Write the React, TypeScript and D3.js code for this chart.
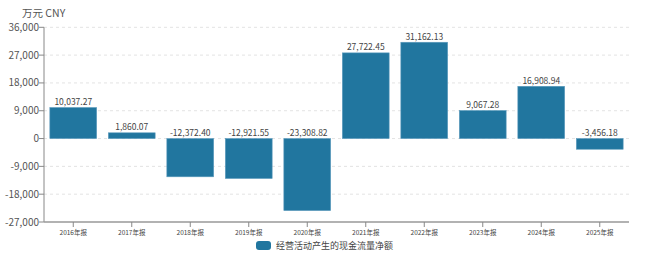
import React from "react";
import * as d3 from "d3";

const categories = ["2016年报", "2017年报", "2018年报", "2019年报", "2020年报", "2021年报", "2022年报", "2023年报", "2024年报", "2025年报"];
const values = [10037.27, 1860.07, -12372.4, -12921.55, -23308.82, 27722.45, 31162.13, 9067.28, 16908.94, -3456.18];
const yTicks = [-27000, -18000, -9000, 0, 9000, 18000, 27000, 36000];
const seriesName = "经营活动产生的现金流量净额";
const unitLabel = "万元  CNY";

const W = 648;
const H = 255;
const left = 44;
const right = 629;
const top = 27.3;
const bottom = 222;
const font = "'Noto Sans CJK SC', 'Noto Sans', sans-serif";

const locale = d3.formatLocale({ decimal: ".", thousands: ",", grouping: [3], currency: ["", ""], minus: "-" });

export default function App() {
  const x = d3.scaleBand<string>().domain(categories).range([left, right]).paddingInner(0.2).paddingOuter(0.1);
  const xc = d3.scaleBand<string>().domain(categories).range([left, right]);
  const y = d3.scaleLinear().domain([-27000, 36000]).range([bottom, top]);
  const fmt = locale.format(",.2f");
  const tfmt = locale.format(",");
  const barColor = "#21769f";

  return (
    <svg width={W} height={H} style={{ position: "absolute", left: 0, top: 0, background: "#fff" }} fontFamily={font}>
      <text x={22} y={17} fontSize={10.5} fill="#555">{unitLabel}</text>
      {yTicks.map((t) => (
        <g key={t}>
          {t !== -27000 && (
            <line x1={left} x2={right} y1={y(t)} y2={y(t)} stroke="#e3e3e3" strokeDasharray="3,3" />
          )}
          <line x1={left - 5} x2={left} y1={y(t)} y2={y(t)} stroke="#888" />
          <text x={left - 5} y={y(t)} dy="0.35em" textAnchor="end" fontSize={10} fill="#555">
            {tfmt(t)}
          </text>
        </g>
      ))}
      <line x1={left} x2={left} y1={top} y2={bottom} stroke="#888" />
      <line x1={left} x2={right} y1={bottom} y2={bottom} stroke="#999" strokeWidth={1.5} />
      {categories.map((c) => {
        const cx = (xc(c) as number) + xc.bandwidth() / 2;
        return (
          <g key={c}>
            <line x1={cx} x2={cx} y1={bottom} y2={bottom + 5} stroke="#888" />
            <text x={cx} y={bottom + 13} textAnchor="middle" fontSize={6.5} fill="#444">{c}</text>
          </g>
        );
      })}
      {values.map((v, i) => {
        const c = categories[i];
        const bx = x(c) as number;
        const y0 = y(0);
        const y1 = y(v);
        return (
          <g key={c}>
            <rect x={bx} y={Math.min(y0, y1)} width={x.bandwidth()} height={Math.abs(y1 - y0)} fill={barColor} stroke="#5b9bbd" strokeWidth={0.6} />
            <text x={bx + x.bandwidth() / 2} y={(v >= 0 ? y1 : y0) - 2.5} textAnchor="middle" fontSize={8.5} fill="#444">
              {fmt(v)}
            </text>
          </g>
        );
      })}
      <rect x={256} y={241} width={15} height={9} rx={3} fill={barColor} />
      <text x={276} y={245.5} dy="0.35em" fontSize={9} fill="#444">{seriesName}</text>
    </svg>
  );
}
